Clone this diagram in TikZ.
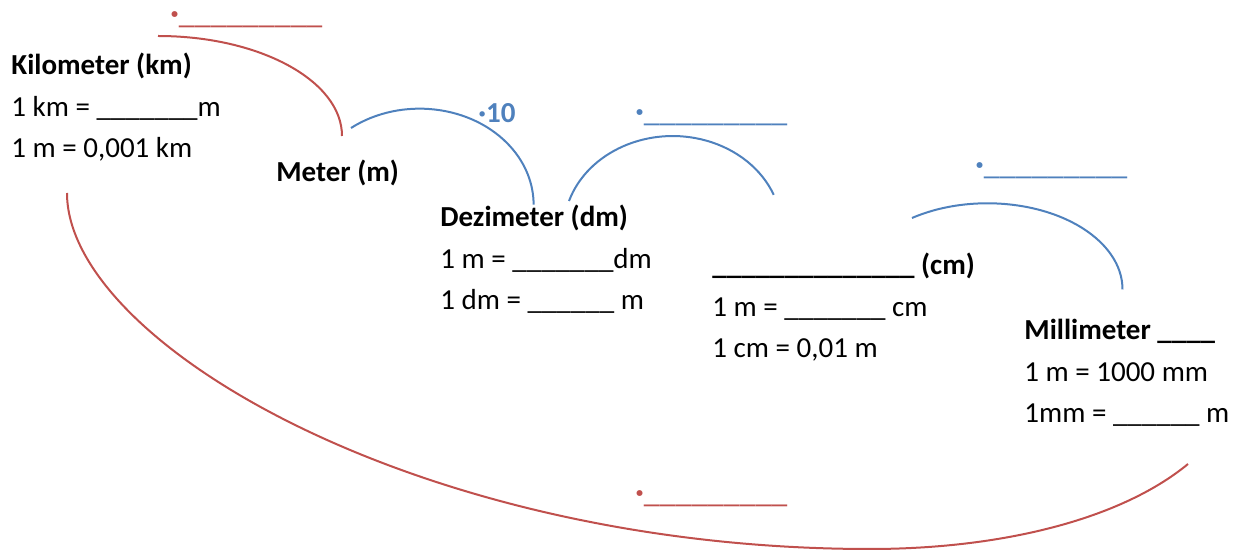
\documentclass[tikz,border=0pt]{standalone}
\usepackage{fontspec}
\setmainfont{Carlito}
\definecolor{arcred}{RGB}{192,80,77}
\definecolor{arcblue}{RGB}{79,129,189}

\begin{document}
\begin{tikzpicture}[x=0.5pt, y=-0.5pt]
  % Styles for the unit blocks, the arcs and the blanks
  \tikzset{
    unit/.style={anchor=base west, inner sep=0pt, align=left, font=\fontsize{14.5}{20.75}\selectfont},
    redarc/.style={arcred, line width=1pt},
    bluearc/.style={arcblue, line width=1pt},
    blank/.style={anchor=base west, inner sep=0pt, font=\fontsize{16}{16}\selectfont},
    factor/.style={anchor=base west, inner sep=0pt, font=\fontsize{14.5}{20.75}\selectfont\bfseries, text=arcblue}
  }
  \useasboundingbox (0,0) rectangle (1243,550);

  % Unit blocks, largest to smallest (base = last line)
  \node[unit] (km) at (11,158) {\textbf{Kilometer (km)}\\1 km = \_\_\_\_\_\_\_m\\1 m = 0,001 km};
  \node[unit] (m) at (276,182) {\textbf{Meter (m)}};
  \node[unit] (dm) at (440,310) {\textbf{Dezimeter (dm)}\\1 m = \_\_\_\_\_\_\_dm\\1 dm = \_\_\_\_\_\_ m};
  \node[unit] (cm) at (712,358) {\textbf{\_\_\_\_\_\_\_\_\_\_\_\_\_\_ (cm)}\\1 m = \_\_\_\_\_\_\_ cm\\1 cm = 0,01 m};
  \node[unit] (mm) at (1024,423) {\textbf{Millimeter \_\_\_\_}\\1 m = 1000 mm\\1mm = \_\_\_\_\_\_ m};

  % Arc start points
  \coordinate (a1) at (158,36);  % km -> m
  \coordinate (a2) at (351,128); % m -> dm
  \coordinate (a3) at (569,201); % dm -> cm
  \coordinate (a4) at (912,218); % cm -> mm
  \coordinate (k1) at (67,193);  % km <- mm
  \coordinate (k2) at (870,549);
  \coordinate (k3) at (1188,464);

  \draw[redarc] (a1) arc[start angle=-90, end angle=0, x radius=184, y radius=100];
  \draw[bluearc] (a2) arc[start angle=-127, end angle=0, x radius=114, y radius=96];
  \draw[bluearc] (a3) arc[start angle=-162, end angle=-22, x radius=109, y radius=94];
  \draw[bluearc] (a4) arc[start angle=-124, end angle=0, x radius=135, y radius=86];
  \draw[redarc] (k1) .. controls +(0,150) and +(-450,0) .. (k2)
                     .. controls +(130,0) and +(-68,56) .. (k3);

  % Factors and blanks on the arcs
  \node[factor] (f2) at (478,123) {·10};
  \node[blank, text=arcred] (f1) at (170,24) {\textbf{·}\_\_\_\_\_\_\_\_\_};
  \node[blank, text=arcblue] (f3) at (635,122) {\textbf{·}\_\_\_\_\_\_\_\_\_};
  \node[blank, text=arcblue] (f4) at (975,175) {\textbf{·}\_\_\_\_\_\_\_\_\_};
  \node[blank, text=arcred] (f5) at (635,503) {\textbf{·}\_\_\_\_\_\_\_\_\_};
\end{tikzpicture}
\end{document}
